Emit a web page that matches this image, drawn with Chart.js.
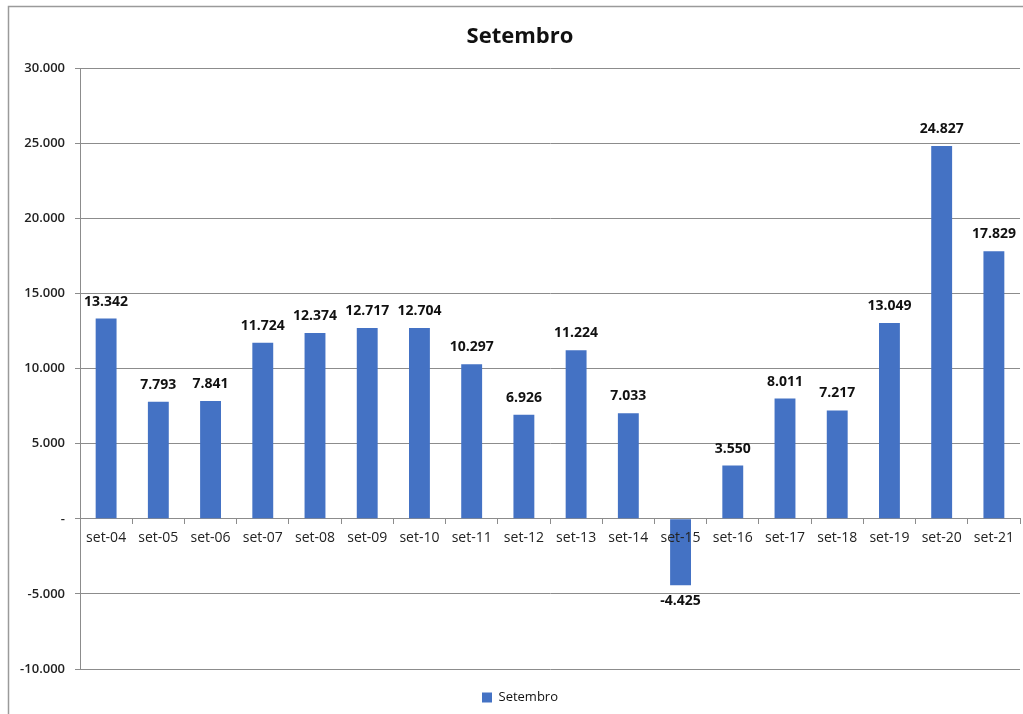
<!DOCTYPE html>
<html lang="pt">
<head>
    <title>Setembro</title>
    <meta charset="UTF-8">
    <style>
        body {
            margin: 0;
            background: #fff;
            font-family: "Open Sans", Arial, sans-serif;
        }
        #chart-container {
            position: relative;
            width: 1023px;
            height: 714px;
        }
    </style>
</head>
<body>
<div id="chart-container">
    <canvas id="setembro-plot"></canvas>
</div>
<script src="https://cdn.jsdelivr.net/npm/chart.js"></script>
<script>
    const categorias = ['set-04', 'set-05', 'set-06', 'set-07', 'set-08', 'set-09', 'set-10', 'set-11', 'set-12',
        'set-13', 'set-14', 'set-15', 'set-16', 'set-17', 'set-18', 'set-19', 'set-20', 'set-21'];
    const valores = [13342, 7793, 7841, 11724, 12374, 12717, 12704, 10297, 6926,
        11224, 7033, -4425, 3550, 8011, 7217, 13049, 24827, 17829];

    // 12345 -> "12.345", 0 -> "-"
    function formatar(v) {
        if (v === 0) return '-';
        const s = Math.abs(v).toFixed(0).replace(/\B(?=(\d{3})+(?!\d))/g, '.');
        return (v < 0 ? '-' : '') + s;
    }

    const moldura = {
        id: 'moldura',
        beforeDraw(chart) {
            const c = chart.ctx;
            c.save();
            c.fillStyle = '#fff';
            c.fillRect(0, 0, chart.width, chart.height);
            c.strokeStyle = '#9a9a9a';
            c.lineWidth = 1.5;
            c.beginPath();
            c.moveTo(8.5, chart.height);
            c.lineTo(8.5, 6.5);
            c.lineTo(chart.width, 6.5);
            c.stroke();
            c.restore();
        }
    };

    const rotulos = {
        id: 'rotulos',
        afterDraw(chart) {
            const c = chart.ctx;
            const meta = chart.getDatasetMeta(0);
            c.save();
            c.font = 'bold 14px "Open Sans", Arial, sans-serif';
            c.fillStyle = '#111';
            c.textAlign = 'center';
            c.textBaseline = 'middle';
            meta.data.forEach((bar, i) => {
                const v = valores[i];
                const y = v >= 0 ? bar.y - 17 : bar.y + 16;
                c.fillText(formatar(v), bar.x, y);
            });
            c.restore();
        }
    };

    const ctx = document.getElementById('setembro-plot').getContext('2d');

    const plot = new Chart(ctx, {
        type: 'bar',
        data: {
            labels: categorias,
            datasets: [{
                label: 'Setembro',
                data: valores,
                backgroundColor: '#4472c4',
                barPercentage: 0.4,
                categoryPercentage: 1.0
            }]
        },
        options: {
            responsive: true,
            maintainAspectRatio: false,
            animation: false,
            layout: {
                padding: { left: 20, right: 3, top: 0, bottom: 0 }
            },
            plugins: {
                title: {
                    display: true,
                    text: 'Setembro',
                    color: '#111',
                    font: { family: '"Open Sans", Arial, sans-serif', size: 22, weight: 'bold' },
                    padding: { top: 24, bottom: 18 }
                },
                legend: {
                    position: 'bottom',
                    labels: {
                        boxWidth: 10,
                        boxHeight: 10,
                        color: '#111',
                        font: { family: '"Open Sans", Arial, sans-serif', size: 13 },
                        padding: 22
                    }
                },
                tooltip: { enabled: false }
            },
            scales: {
                x: {
                    position: { y: 0 },
                    grid: {
                        offset: true,
                        drawOnChartArea: false,
                        tickLength: 5,
                        color: '#8c8c8c'
                    },
                    border: { color: '#8c8c8c' },
                    ticks: {
                        z: 1,
                        color: '#222',
                        padding: 6,
                        maxRotation: 0,
                        autoSkip: false,
                        font: { family: '"Open Sans", Arial, sans-serif', size: 14 }
                    }
                },
                y: {
                    min: -10000,
                    max: 30000,
                    afterFit(scale) { scale.width = 60; },
                    grid: {
                        color: '#8c8c8c',
                        tickLength: 5
                    },
                    border: { color: '#8c8c8c' },
                    ticks: {
                        stepSize: 5000,
                        padding: 10,
                        color: '#222',
                        font: { family: '"Open Sans", Arial, sans-serif', size: 13, weight: '600' },
                        callback: v => formatar(v)
                    }
                }
            }
        },
        plugins: [moldura, rotulos]
    });
</script>
</body>
</html>
